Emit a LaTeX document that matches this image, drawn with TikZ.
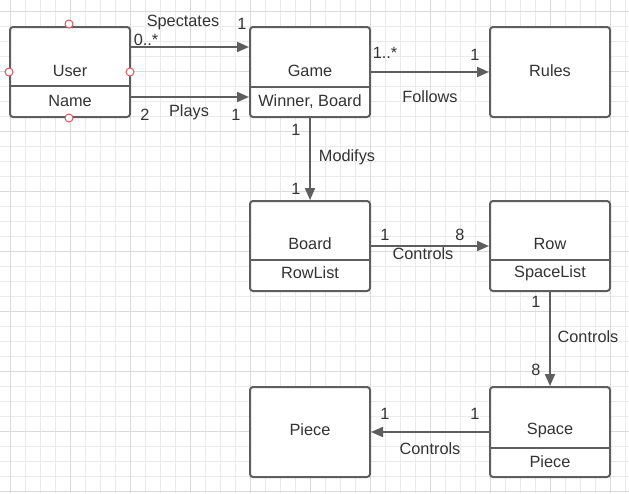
\documentclass[tikz,border=0pt]{standalone}
\usepackage{fontspec}
\setmainfont{Liberation Sans}
\usetikzlibrary{arrows.meta}
\definecolor{linegray}{HTML}{5E5E5E}
\definecolor{textgray}{HTML}{333333}
\definecolor{gridminor}{HTML}{EBEBEB}
\definecolor{gridmajor}{HTML}{DADADA}
\definecolor{handlered}{HTML}{E0565B}
\tikzset{
  classbox/.style={draw=linegray, line width=2pt, rounded corners=3pt, fill=white,
    minimum width=120pt, minimum height=90pt, inner sep=0pt},
  divider/.style={draw=linegray, line width=2pt},
  txt/.style={text=textgray, font=\fontsize{16.3}{19}\selectfont, inner sep=0pt},
  arr/.style={draw=linegray, line width=2pt, -{Triangle[length=12pt,width=10pt]}},
  handle/.style={draw=handlered, fill=white, line width=1pt, circle, minimum size=8pt, inner sep=0pt},
}
\begin{document}
\begin{tikzpicture}[x=1pt,y=-1pt]
\useasboundingbox (0,0) rectangle (629,493);
\fill[white] (0,0) rectangle (629,493);
% grid
\foreach \i in {0,...,41} \draw[gridminor, line width=1pt] (10+15*\i,0) -- (10+15*\i,493);
\foreach \j in {0,...,32} \draw[gridminor, line width=1pt] (0,11+15*\j) -- (629,11+15*\j);
\foreach \i in {0,...,10} \draw[gridmajor, line width=1pt] (10+60*\i,0) -- (10+60*\i,493);
\foreach \j in {0,...,8} \draw[gridmajor, line width=1pt] (0,11+60*\j) -- (629,11+60*\j);
% boxes
\node[classbox] (user) at (70,72) {};
\node[classbox] (game) at (310,72) {};
\node[classbox] (rules) at (550,72) {};
\node[classbox] (board) at (310,246) {};
\node[classbox] (row) at (550,246) {};
\node[classbox] (piece) at (310,432) {};
\node[classbox] (space) at (550,432) {};
% dividers
\draw[divider] (user.west |- 0,86) -- (user.east |- 0,86);
\draw[divider] (game.west |- 0,87) -- (game.east |- 0,87);
\draw[divider] (board.west |- 0,260) -- (board.east |- 0,260);
\draw[divider] (row.west |- 0,260) -- (row.east |- 0,260);
\draw[divider] (space.west |- 0,448) -- (space.east |- 0,448);
% box texts
\node[txt] (usert) at (70,71) {User};
\node[txt] (usera) at (70,101) {Name};
\node[txt] (gamet) at (310,71) {Game};
\node[txt] (gamea) at (310,102) {Winner, Board};
\node[txt] (rulest) at (550,71) {Rules};
\node[txt] (boardt) at (310,244) {Board};
\node[txt] (boarda) at (310,273) {RowList};
\node[txt] (rowt) at (550,244) {Row};
\node[txt] (rowa) at (550,273) {SpaceList};
\node[txt] (piecet) at (310,430) {Piece};
\node[txt] (spacet) at (550,430) {Space};
\node[txt] (spacea) at (550,462) {Piece};
% handles
\node[handle] (h1) at (69,24) {};
\node[handle] (h2) at (9,72) {};
\node[handle] (h3) at (130,72) {};
\node[handle] (h4) at (69,118) {};
% connectors
\draw[arr] ([yshift=25pt]user.east) -- ([yshift=25pt]game.west);
\draw[arr] ([yshift=-25pt]user.east) -- ([yshift=-25pt]game.west);
\draw[arr] (game.east) -- (rules.west);
\draw[arr] (game.south) -- (board.north);
\draw[arr] (board.east) -- (row.west);
\draw[arr] (row.south) -- (space.north);
\draw[arr] (space.west) -- (piece.east);
% connector labels
\node[txt] (l1) at (183,22) {Spectates};
\node[txt] (l2) at (146,40) {0..*};
\node[txt] (l3) at (242,24) {1};
\node[txt] (l4) at (189,112) {Plays};
\node[txt] (l5) at (145,115) {2};
\node[txt] (l6) at (236,115) {1};
\node[txt] (l7) at (385,53) {1..*};
\node[txt] (l8) at (475,55) {1};
\node[txt] (l9) at (430,97) {Follows};
\node[txt] (l10) at (296,130) {1};
\node[txt] (l11) at (347,157) {Modifys};
\node[txt] (l12) at (296,189) {1};
\node[txt] (l13) at (385,235) {1};
\node[txt] (l14) at (460,235) {8};
\node[txt] (l15) at (423,254) {Controls};
\node[txt] (l16) at (536,302) {1};
\node[txt] (l17) at (588,337) {Controls};
\node[txt] (l18) at (536,370) {8};
\node[txt] (l19) at (385,414) {1};
\node[txt] (l20) at (475,414) {1};
\node[txt] (l21) at (430,449) {Controls};
\end{tikzpicture}
\end{document}
